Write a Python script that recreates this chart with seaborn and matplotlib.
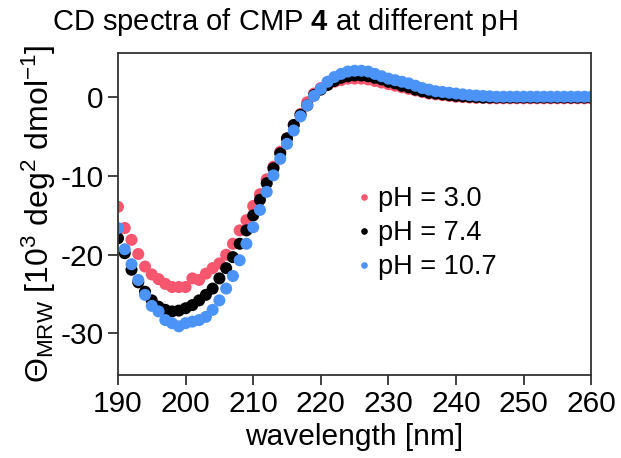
import numpy as np
import pandas as pd
import matplotlib
matplotlib.use("Agg")
import matplotlib.pyplot as plt
import seaborn as sns

# CD spectra (1 nm steps, 190-260 nm)
wavelength = list(range(190, 261))

ph_30 = [-13.9, -16.6, -18.1, -19.9, -21.5, -22.5, -23.1, -23.7, -24.1, -24.1,
         -24.1, -23.0, -23.2, -22.4, -21.7, -21.1, -20.0, -18.6, -16.9, -15.6,
         -13.8, -12.3, -10.4, -8.8, -6.9, -5.2, -3.5, -2.1, -0.6, 0.5,
         1.2, 1.6, 2.0, 2.2, 2.4, 2.4, 2.4, 2.3, 2.1, 1.9,
         1.7, 1.5, 1.3, 1.1, 0.9, 0.7, 0.5, 0.4, 0.3, 0.2,
         0.1, 0.05, 0.0, -0.05, -0.05, -0.1, -0.1, -0.1, -0.1, -0.1,
         -0.1, -0.1, -0.1, -0.1, -0.1, -0.1, -0.1, -0.1, -0.1, -0.1, -0.1]

ph_74 = [-17.9, -19.8, -21.9, -23.5, -24.7, -25.8, -26.6, -27.0, -27.2, -27.1,
         -26.8, -26.4, -25.8, -25.1, -24.3, -23.0, -21.7, -20.3, -18.6, -16.9,
         -15.0, -13.0, -10.9, -9.0, -7.1, -5.2, -3.5, -2.2, -1.0, 0.3,
         1.0, 1.6, 2.1, 2.5, 2.7, 2.8, 2.8, 2.7, 2.5, 2.3,
         2.0, 1.8, 1.5, 1.3, 1.0, 0.8, 0.6, 0.5, 0.4, 0.3,
         0.2, 0.15, 0.1, 0.05, 0.0, 0.0, 0.0, 0.0, 0.0, 0.0,
         0.0, 0.0, 0.0, 0.0, 0.0, 0.0, 0.0, 0.0, 0.0, 0.0, 0.0]

ph_107 = [-16.6, -19.3, -21.2, -23.2, -25.1, -26.5, -27.2, -28.3, -28.7, -29.1,
          -28.7, -28.5, -28.3, -27.9, -27.0, -25.8, -24.3, -22.7, -20.7, -18.6,
          -16.5, -14.3, -12.0, -9.9, -7.8, -5.9, -4.2, -2.4, -1.0, 0.2,
          1.1, 2.0, 2.6, 3.0, 3.3, 3.4, 3.4, 3.3, 3.0, 2.7,
          2.4, 2.2, 2.0, 1.8, 1.5, 1.2, 1.0, 0.8, 0.7, 0.6,
          0.5, 0.4, 0.3, 0.25, 0.2, 0.15, 0.1, 0.1, 0.1, 0.1,
          0.1, 0.1, 0.1, 0.1, 0.1, 0.1, 0.1, 0.1, 0.1, 0.1, 0.1]

labels = ['pH = 3.0', 'pH = 7.4', 'pH = 10.7']
colors = ['#F6566E', '#000000', '#4C93F8']

# long table, red first so blue ends up on top
df = pd.concat([
    pd.DataFrame({'wl': wavelength, 'theta': ph_30, 'pH': labels[0]}),
    pd.DataFrame({'wl': wavelength, 'theta': ph_74, 'pH': labels[1]}),
    pd.DataFrame({'wl': wavelength, 'theta': ph_107, 'pH': labels[2]}),
], ignore_index=True)

sns.set_style("ticks")
plt.rcParams['font.family'] = ['Liberation Sans', 'DejaVu Sans']
plt.rcParams['mathtext.fontset'] = 'custom'
plt.rcParams['mathtext.rm'] = 'Liberation Sans'
plt.rcParams['mathtext.it'] = 'Liberation Sans'
plt.rcParams['mathtext.bf'] = 'Liberation Sans:bold'
plt.rcParams['axes.unicode_minus'] = False
plt.rcParams['text.color'] = 'black'
plt.rcParams['axes.labelcolor'] = 'black'

fig = plt.figure(figsize=(6.21, 4.58), dpi=100)
ax = fig.add_axes([0.19, 0.181, 0.762, 0.704])

sns.scatterplot(data=df, x='wl', y='theta', hue='pH', hue_order=labels,
                palette=colors, s=75, linewidth=0, ax=ax)

ax.set_xlim(190, 260)
ax.set_ylim(-35.3, 5.7)
ax.set_xticks(range(190, 261, 10))
ax.set_yticks([0, -10, -20, -30])
ax.tick_params(labelsize=21.5, length=7, width=1.3, color='#333333',
               labelcolor='black')
for sp in ax.spines.values():
    sp.set_linewidth(1.3)
    sp.set_color('#333333')

ax.set_xlabel('wavelength [nm]', fontsize=21.5, labelpad=4)
ax.set_ylabel(r'$\Theta_{\mathrm{MRW}}$ [10$^3$ deg$^2$ dmol$^{-1}$]',
              fontsize=23, labelpad=2)

fig.text(0.084, 0.952, r'CD spectra of CMP $\mathbf{4}$ at different pH',
         fontsize=21, va='center', ha='left')

ax.legend(loc='center left', bbox_to_anchor=(0.475, 0.44), frameon=False,
          fontsize=19.5, markerscale=0.55, handletextpad=0.1, labelspacing=0.3,
          borderaxespad=0, handlelength=0.8)

fig.savefig('out.png', dpi=100)
